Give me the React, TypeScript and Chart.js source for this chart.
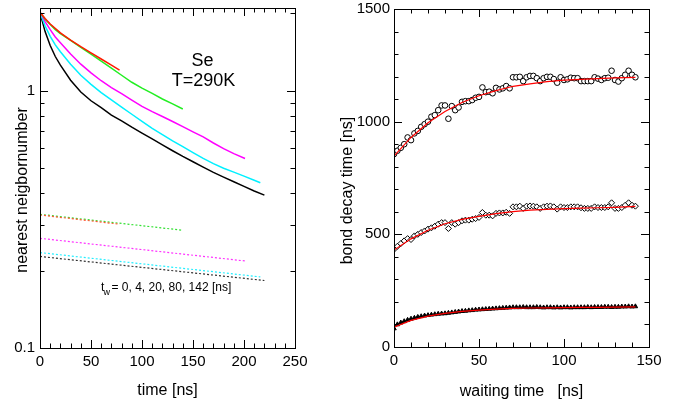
import React, { useEffect, useRef } from 'react';
import { Chart, registerables } from 'chart.js';
Chart.register(...registerables);

const FONT = '"Liberation Sans", Arial, Helvetica, sans-serif';

// ---------------- Left panel: nearest neighbour number vs time ----------------
const blackT = [0, 2, 5, 10, 15, 20, 30, 40, 50, 60, 70, 80, 90, 100, 110, 120, 130, 140, 150, 160, 170, 180, 190, 200, 210, 220];
const blackV = [2.0, 1.88, 1.70, 1.50, 1.36, 1.26, 1.10, 0.99, 0.915, 0.86, 0.805, 0.765, 0.722, 0.685, 0.65, 0.617, 0.585, 0.556, 0.53, 0.505, 0.482, 0.462, 0.443, 0.425, 0.408, 0.393];
const cyanT = [0, 2, 5, 10, 15, 20, 30, 40, 50, 60, 70, 80, 90, 100, 110, 120, 130, 140, 150, 160, 170, 180, 190, 200, 210, 216];
const cyanV = [2.0, 1.92, 1.79, 1.63, 1.51, 1.42, 1.27, 1.15, 1.06, 0.985, 0.922, 0.865, 0.811, 0.761, 0.715, 0.676, 0.639, 0.607, 0.575, 0.546, 0.521, 0.5, 0.483, 0.466, 0.449, 0.439];
const magentaT = [0, 2, 5, 10, 15, 20, 30, 40, 50, 60, 70, 80, 90, 100, 110, 120, 130, 140, 150, 160, 170, 180, 190, 201];
const magentaV = [2.0, 1.96, 1.86, 1.73, 1.62, 1.54, 1.39, 1.27, 1.175, 1.095, 1.03, 0.975, 0.92, 0.87, 0.83, 0.795, 0.76, 0.726, 0.693, 0.662, 0.627, 0.596, 0.57, 0.546];
const greenT = [0, 2, 5, 10, 15, 20, 30, 40, 50, 60, 70, 80, 90, 100, 110, 120, 130, 140];
const greenV = [2.0, 1.97, 1.9, 1.81, 1.73, 1.67, 1.57, 1.475, 1.39, 1.305, 1.225, 1.15, 1.08, 1.025, 0.978, 0.93, 0.89, 0.85];
const redT = [0, 5, 10, 20, 30, 40, 50, 60, 70, 78];
const redV = [2.02, 1.91, 1.82, 1.68, 1.575, 1.485, 1.405, 1.33, 1.26, 1.205];
// dotted fits (start / end)
const greenFitT = [0, 140];
const greenFitV = [0.331, 0.287];
const redFitT = [0, 78];
const redFitV = [0.329, 0.303];
const magentaFitT = [0, 201];
const magentaFitV = [0.267, 0.218];
const cyanFitT = [0, 216];
const cyanFitV = [0.235, 0.189];
const blackFitT = [0, 220];
const blackFitV = [0.227, 0.183];

const leftYTicks = [0.1, 0.2, 0.3, 0.4, 0.5, 0.6, 0.7, 0.8, 0.9, 1, 2];
const leftYLabelValues = [0.1, 1];
const leftYLabelTexts = ['0.1', '1'];
const leftXLabels = [0, 50, 100, 150, 200, 250];

// ---------------- Right panel: bond decay time vs waiting time ----------------
const waitT = [0, 2, 4, 6, 8, 10, 12, 14, 16, 18, 20, 22, 24, 26, 28, 30, 32, 34, 36, 38, 40, 42, 44, 46, 48, 50, 52, 54, 56, 58, 60, 62, 64, 66, 68, 70, 72, 74, 76, 78, 80, 82, 84, 86, 88, 90, 92, 94, 96, 98, 100, 102, 104, 106, 108, 110, 112, 114, 116, 118, 120, 122, 124, 126, 128, 130, 132, 134, 136, 138, 140, 142];
const topSeries = [856, 871, 884, 900, 930, 918, 948, 959, 977, 989, 1000, 1022, 1029, 1051, 1072, 1072, 1013, 1069, 1051, 1063, 1088, 1091, 1091, 1096, 1106, 1110, 1152, 1131, 1133, 1126, 1150, 1143, 1148, 1158, 1148, 1197, 1197, 1199, 1180, 1197, 1203, 1203, 1193, 1180, 1193, 1199, 1199, 1189, 1173, 1197, 1185, 1188, 1195, 1193, 1193, 1180, 1180, 1180, 1180, 1197, 1191, 1185, 1193, 1195, 1226, 1185, 1178, 1193, 1208, 1226, 1208, 1197];
const midSeries = [433, 447, 459, 471, 481, 477, 493, 500, 508, 515, 523, 529, 536, 545, 552, 552, 526, 552, 545, 552, 560, 563, 563, 567, 570, 575, 597, 585, 585, 582, 593, 595, 595, 598, 593, 622, 622, 625, 615, 625, 626, 625, 622, 615, 622, 625, 626, 622, 612, 622, 619, 619, 622, 622, 622, 618, 615, 615, 615, 622, 619, 619, 619, 622, 640, 615, 615, 619, 629, 640, 629, 625];
const lowSeries = [82, 100, 108, 114, 120, 125, 129, 133, 136, 139, 141, 143, 145, 147, 148, 149, 151, 153, 155, 157, 159, 160, 162, 163, 165, 166, 167, 168, 169, 170, 171, 172, 173, 174, 175, 176, 176, 176, 177, 176, 176, 176, 177, 176, 175, 176, 176, 175, 176, 175, 176, 176, 175, 176, 176, 176, 176, 177, 176, 177, 177, 177, 178, 178, 177, 178, 178, 179, 179, 180, 179, 180];
const fitT = [0, 10, 20, 30, 40, 50, 60, 70, 80, 90, 100, 110, 120, 130, 142];
const topFit = [847, 930, 995, 1045, 1085, 1115, 1138, 1157, 1168, 1178, 1184, 1188, 1191, 1194, 1197];
const midFit = [430, 480, 518, 547, 566, 580, 592, 601, 607, 611, 614, 616, 618, 620, 624];
const lowFit = [88, 118, 137, 149, 158, 164, 168, 171, 173, 174, 175, 176, 176, 177, 178];

const rightXLabels = [0, 50, 100, 150];
const rightYLabels = [0, 500, 1000, 1500];

const pairs = (xs: number[], ys: number[]) => xs.map((x, i) => ({ x, y: ys[i] }));
const near = (a: number, b: number) => Math.abs(a - b) < 1e-6;

type TextItem = { text: string; x: number; y: number; size: number; align?: CanvasTextAlign; rotate?: boolean };

const framePlugin = {
  id: 'frame',
  afterDraw(chart: any) {
    const { ctx, chartArea: a, scales } = chart;
    ctx.save();
    ctx.strokeStyle = '#000';
    ctx.lineWidth = 1;
    ctx.strokeRect(a.left + 0.5, a.top + 0.5, a.right - a.left, a.bottom - a.top);
    ctx.beginPath();
    for (const t of scales.x.ticks) {
      const px = Math.round(scales.x.getPixelForValue(t.value)) + 0.5;
      const len = t.label ? 8 : 4.5;
      ctx.moveTo(px, a.bottom);
      ctx.lineTo(px, a.bottom - len);
      ctx.moveTo(px, a.top);
      ctx.lineTo(px, a.top + len);
    }
    for (const t of scales.y.ticks) {
      const py = Math.round(scales.y.getPixelForValue(t.value)) + 0.5;
      const len = t.label ? 8 : 4.5;
      ctx.moveTo(a.left, py);
      ctx.lineTo(a.left + len, py);
      ctx.moveTo(a.right, py);
      ctx.lineTo(a.right - len, py);
    }
    ctx.stroke();
    ctx.restore();
  },
};

const textPlugin = (items: TextItem[]) => ({
  id: 'texts',
  afterDraw(chart: any) {
    const ctx = chart.ctx;
    ctx.save();
    ctx.fillStyle = '#000';
    ctx.textBaseline = 'alphabetic';
    for (const it of items) {
      ctx.save();
      ctx.font = `${it.size}px ${FONT}`;
      ctx.textAlign = it.align ?? 'center';
      ctx.translate(it.x, it.y);
      if (it.rotate) ctx.rotate(-Math.PI / 2);
      ctx.fillText(it.text, 0, 0);
      ctx.restore();
    }
    ctx.restore();
  },
});

const tickFont = { size: 15, family: FONT, lineHeight: 1 };

function solid(data: any, color: string, width = 1.5) {
  return { data, borderColor: color, backgroundColor: color, borderWidth: width, pointRadius: 0, showLine: true, fill: false, tension: 0 };
}
function dotted(data: any, color: string) {
  return { data, borderColor: color, backgroundColor: color, borderWidth: 1.2, borderDash: [2, 2], pointRadius: 0, showLine: true, fill: false, tension: 0 };
}

const fitX = (h: number) => (s: any) => { s.height = h; s.paddingLeft = 0; s.paddingRight = 0; };
const fitY = (w: number) => (s: any) => { s.width = w; s.paddingTop = 0; s.paddingBottom = 0; };

function leftConfig(): any {
  return {
    type: 'line',
    data: {
      datasets: [
        solid(pairs(redT, redV), '#ff1a00'),
        solid(pairs(greenT, greenV), '#22ee22'),
        solid(pairs(magentaT, magentaV), '#ff00ff'),
        solid(pairs(cyanT, cyanV), '#00f0ff'),
        solid(pairs(blackT, blackV), '#000000'),
        dotted(pairs(redFitT, redFitV), '#ff5533'),
        dotted(pairs(greenFitT, greenFitV), '#33e033'),
        dotted(pairs(magentaFitT, magentaFitV), '#ff33ff'),
        dotted(pairs(cyanFitT, cyanFitV), '#22eeff'),
        dotted(pairs(blackFitT, blackFitV), '#333333'),
      ],
    },
    options: {
      responsive: false,
      animation: false,
      events: [],
      layout: { padding: { top: 8, right: 45, left: 0, bottom: 0 } },
      plugins: { legend: { display: false }, tooltip: { enabled: false } },
      scales: {
        x: {
          type: 'linear', min: 0, max: 250,
          grid: { display: false, drawTicks: false }, border: { display: false },
          ticks: {
            stepSize: 10, autoSkip: false, maxRotation: 0, padding: 6, color: '#000', font: tickFont,
            callback: (v: number) => (leftXLabels.some((u) => near(u, v)) ? String(Math.round(v)) : ''),
          },
          afterFit: fitX(60),
        },
        y: {
          type: 'logarithmic', min: 0.1, max: 2.1,
          grid: { display: false, drawTicks: false }, border: { display: false },
          afterBuildTicks: (s: any) => { s.ticks = leftYTicks.map((v) => ({ value: v })); },
          ticks: {
            autoSkip: false, padding: 5, color: '#000', font: tickFont,
            callback: (v: number) => {
              const i = leftYLabelValues.findIndex((u) => near(u, v));
              return i >= 0 ? leftYLabelTexts[i] : '';
            },
          },
          afterFit: fitY(40),
        },
      },
    },
    plugins: [
      framePlugin,
      textPlugin([
        { text: 'nearest neigbornumber', x: 26.5, y: 190, size: 16, rotate: true },
        { text: 'time [ns]', x: 167.5, y: 395, size: 16 },
        { text: 'Se', x: 202.5, y: 66, size: 18 },
        { text: 'T=290K', x: 203.5, y: 86, size: 18 },
        { text: 't', x: 101, y: 290.5, size: 12, align: 'left' },
        { text: 'w', x: 103.5, y: 295, size: 9, align: 'left' },
        { text: '= 0, 4, 20, 80, 142 [ns]', x: 111.5, y: 290.5, size: 12, align: 'left' },
      ]),
    ],
  };
}

function rightConfig(): any {
  return {
    type: 'line',
    data: {
      datasets: [
        solid(pairs(fitT, topFit), '#ff0000', 1.2),
        solid(pairs(fitT, midFit), '#ff0000', 1.2),
        solid(pairs(fitT, lowFit), '#ff0000', 1.2),
        { data: pairs(waitT, topSeries), showLine: false, pointStyle: 'circle', pointRadius: 2.8, borderWidth: 1, borderColor: '#000', backgroundColor: '#fff' },
        { data: pairs(waitT, midSeries), showLine: false, pointStyle: 'rectRot', pointRadius: 3, borderWidth: 1, borderColor: '#000', backgroundColor: '#fff' },
        { data: pairs(waitT, lowSeries), showLine: false, pointStyle: 'triangle', pointRadius: 2.6, borderWidth: 1, borderColor: '#000', backgroundColor: '#000' },
      ],
    },
    options: {
      responsive: false,
      animation: false,
      events: [],
      layout: { padding: { top: 9, right: 31, left: 0, bottom: 0 } },
      plugins: { legend: { display: false }, tooltip: { enabled: false } },
      scales: {
        x: {
          type: 'linear', min: 0, max: 150,
          grid: { display: false, drawTicks: false }, border: { display: false },
          ticks: {
            stepSize: 10, autoSkip: false, maxRotation: 0, padding: 6, color: '#000', font: tickFont,
            callback: (v: number) => (rightXLabels.some((u) => near(u, v)) ? String(Math.round(v)) : ''),
          },
          afterFit: fitX(61),
        },
        y: {
          type: 'linear', min: 0, max: 1500,
          grid: { display: false, drawTicks: false }, border: { display: false },
          ticks: {
            stepSize: 100, autoSkip: false, padding: 4, color: '#000', font: tickFont,
            callback: (v: number) => (rightYLabels.some((u) => near(u, v)) ? String(Math.round(v)) : ''),
          },
          afterFit: fitY(54),
        },
      },
    },
    plugins: [
      framePlugin,
      textPlugin([
        { text: 'bond decay time [ns]', x: 11.5, y: 190.5, size: 16, rotate: true },
        { text: 'waiting time   [ns]', x: 181.5, y: 396, size: 16 },
      ]),
    ],
  };
}

function Panel({ make, left }: { make: () => any; left: number }) {
  const ref = useRef<HTMLCanvasElement>(null);
  useEffect(() => {
    const chart = new Chart(ref.current as HTMLCanvasElement, make());
    return () => chart.destroy();
  }, []);
  return (
    <canvas
      ref={ref}
      width={340}
      height={408}
      style={{ position: 'absolute', left, top: 0, width: 340, height: 408 }}
    />
  );
}

export default function App() {
  return (
    <div style={{ position: 'absolute', left: 0, top: 0, width: 680, height: 408, background: '#fff' }}>
      <Panel make={leftConfig} left={0} />
      <Panel make={rightConfig} left={340} />
    </div>
  );
}
